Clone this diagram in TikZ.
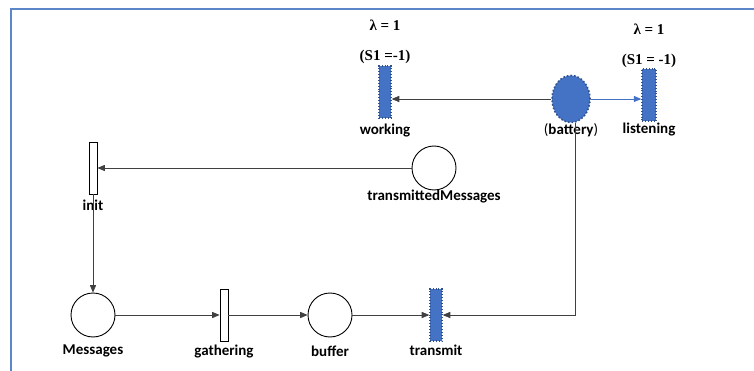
\documentclass[tikz,border=0pt]{standalone}
\usepackage{fontspec}
\setmainfont{Carlito}
\newfontfamily\timesbold{Liberation Serif}
\usetikzlibrary{arrows, positioning, shapes.geometric}
\definecolor{frameblue}{HTML}{5B87C8}
\definecolor{petriblue}{HTML}{4472C4}
\definecolor{petriedge}{HTML}{2F528F}

\begin{document}
\begin{tikzpicture}[>=triangle 45,node distance=2cm,font=\fontsize{15}{17}\selectfont\bfseries]
  \tikzstyle{place}=[circle,draw,line width=0.9pt,minimum size=44pt,inner sep=0pt]
  \tikzstyle{transition}=[rectangle,draw,line width=0.9pt,minimum width=8pt,minimum height=52pt,inner sep=0pt]
  \tikzstyle{timed}=[transition,fill=petriblue,draw=petriedge,dotted,line width=1.6pt,minimum width=12pt]
  \tikzstyle{rate}=[font=\fontsize{15}{17}\timesbold\bfseries]
  \tikzstyle{arc}=[draw=black!75,line width=0.7pt]

  \useasboundingbox (0,0) rectangle (754pt,-371pt);
  \draw[frameblue,line width=2pt] (11pt,-371pt) |- (754pt,-9pt);

  % bottom row
  \node[place]      (Messages)    at (93pt,-315pt)  [label={[label distance=4pt]below:Messages}] {};
  \node[transition] (gathering)   [right of=Messages,node distance=131pt]  [label={below:gathering}] {};
  \node[place]      (buffer)      [right of=gathering,node distance=106pt] [label={[label distance=5pt]below:buffer}] {};
  \node[timed]      (transmit)    [right of=buffer,node distance=106pt]    [label={below:transmit}] {};

  % middle row
  \node[transition] (init)        [above of=Messages,node distance=147pt]  [label={[label distance=2pt]below:init}] {};
  \node[place]      (transmitted) [right of=init,node distance=341pt]      [label={[label distance=-4pt]below:transmittedMessages}] {};

  % battery and its transitions
  \node[ellipse,fill=petriblue,draw=petriedge,dotted,line width=1.6pt,minimum width=38pt,minimum height=47pt,inner sep=0pt]
                    (battery)     at (571pt,-99pt) [label={[label distance=-3pt]below:\textmd{(}battery\textmd{)}}] {};
  \node[timed]      (working)     [left of=battery,node distance=186pt,yshift=7pt]  [label={[label distance=2pt]below:working}] {};
  \node[timed,minimum width=14pt] (listening) [right of=battery,node distance=78pt,yshift=4pt] [label={[label distance=-2pt]below:listening}] {};

  \node[rate] (S1working)    [above of=working,node distance=35pt]   {(S1 =-1)};
  \node[rate] (lamworking)   [above of=working,node distance=67pt]   {λ = 1};
  \node[rate] (S1listening)  [above of=listening,node distance=34pt] {(S1 = -1)};
  \node[rate] (lamlistening) [above of=listening,node distance=66pt] {λ = 1};

  \path[->]
  (transmitted)  edge [arc]                (init)
  (init.south)   edge [arc]                (Messages.north)
  (Messages)     edge [arc]                (gathering)
  (gathering)    edge [arc]                (buffer)
  (buffer)       edge [arc]                (transmit)
  (battery.west) edge [arc]                (battery.west -| working.east)
  (battery.east) edge [arc,draw=petriblue] (battery.east -| listening.west)
  ;
  \draw[->,arc] ([xshift=4pt]battery.south) |- (transmit.east);
\end{tikzpicture}
\end{document}
